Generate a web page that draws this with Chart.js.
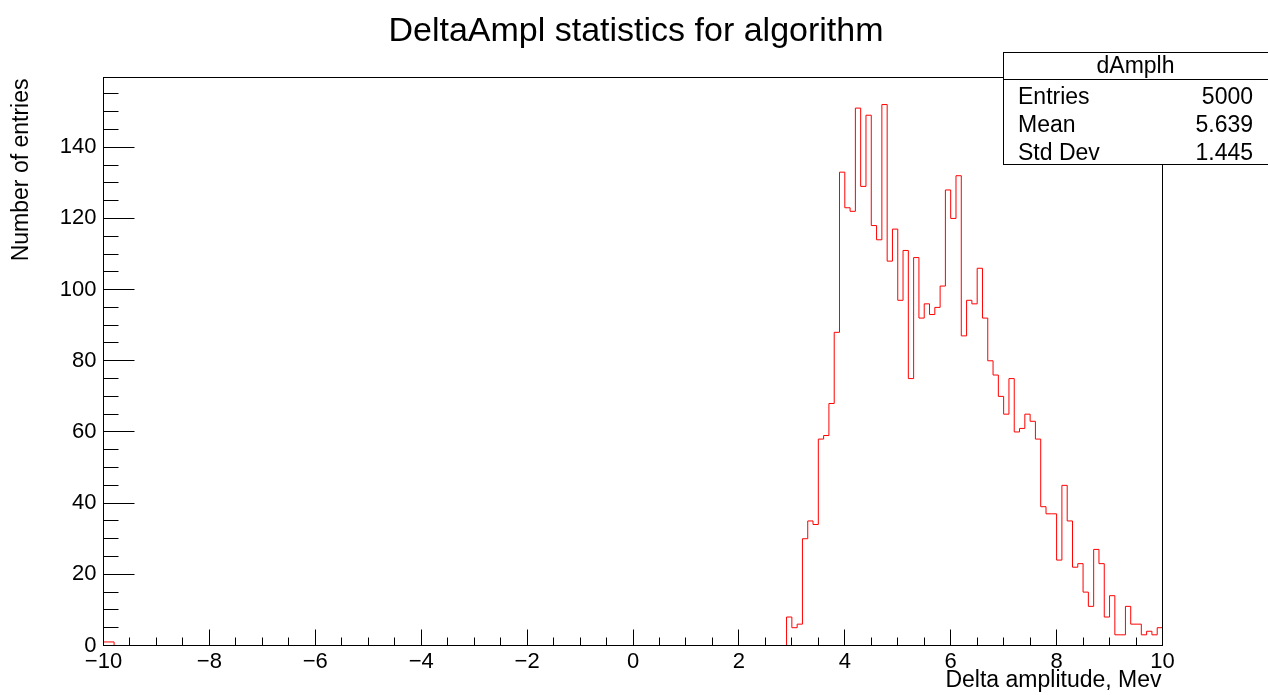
<!DOCTYPE html>
<html>
<head>
<meta charset="utf-8">
<title>DeltaAmpl statistics for algorithm</title>
<script src="https://cdn.jsdelivr.net/npm/chart.js@4.4.1/dist/chart.umd.min.js"></script>
<style>
  html, body { margin: 0; padding: 0; background: #ffffff; }
  canvas { display: block; }
</style>
</head>
<body>
<canvas id="hist" width="1268" height="695"></canvas>
<script>
// Histogram dAmplh: 200 bins of 0.1 between -10 and 10
const histName = 'dAmplh';
const titleText = 'DeltaAmpl statistics for algorithm';
const xTitleText = 'Delta amplitude, Mev';
const yTitleText = 'Number of entries';

const xMin = -10;
const xMax = 10;
const binWidth = 0.1;
const yMax = 159.6;

// bin contents, one row per unit of x (row starts at -10, -9, ..., 9)
const counts = [
  1, 1, 0, 0, 0, 0, 0, 0, 0, 0,
  0, 0, 0, 0, 0, 0, 0, 0, 0, 0,
  0, 0, 0, 0, 0, 0, 0, 0, 0, 0,
  0, 0, 0, 0, 0, 0, 0, 0, 0, 0,
  0, 0, 0, 0, 0, 0, 0, 0, 0, 0,
  0, 0, 0, 0, 0, 0, 0, 0, 0, 0,
  0, 0, 0, 0, 0, 0, 0, 0, 0, 0,
  0, 0, 0, 0, 0, 0, 0, 0, 0, 0,
  0, 0, 0, 0, 0, 0, 0, 0, 0, 0,
  0, 0, 0, 0, 0, 0, 0, 0, 0, 0,
  0, 0, 0, 0, 0, 0, 0, 0, 0, 0,
  0, 0, 0, 0, 0, 0, 0, 0, 0, 0,
  0, 0, 0, 0, 0, 0, 0, 0, 0, 8,
  5, 6, 30, 35, 34, 58, 59, 68, 88, 133,
  123, 122, 151, 129, 149, 118, 114, 152, 108, 117,
  97, 111, 75, 109, 92, 96, 93, 95, 101, 128,
  120, 132, 87, 97, 96, 106, 92, 80, 76, 70,
  65, 75, 60, 61, 65, 63, 58, 39, 37, 37,
  24, 45, 35, 22, 23, 15, 11, 27, 23, 8,
  14, 3, 3, 11, 6, 6, 3, 4, 3, 5
];

// statistics box
const statLabels = ['Entries', 'Mean', 'Std Dev'];
const statValues = ['5000', '5.639', '1.445'];

// axis divisions
const xLabelStep = 2;
const xMinorStep = 0.5;
const yLabelStep = 20;
const yMinorStep = 5;

const FONT = '"Liberation Sans", Arial, Helvetica, sans-serif';
Chart.defaults.font.family = FONT;

// outline points: each bin's low edge carries the bin content
function outlinePoints() {
  const pts = [{ x: xMin, y: 0 }];
  counts.forEach((c, i) => pts.push({ x: xMin + i * binWidth, y: c }));
  pts.push({ x: xMax, y: 0 });
  return pts;
}

const minus = s => String(s).replace('-', '\u2212');

const framePlugin = {
  id: 'frameAndTicks',
  afterDatasetsDraw(chart) {
    const { ctx, chartArea: a, scales: { x, y } } = chart;
    ctx.save();
    ctx.strokeStyle = '#000';
    ctx.lineWidth = 1;
    ctx.strokeRect(a.left, a.top, a.right - a.left, a.bottom - a.top);

    ctx.beginPath();
    // x ticks, pointing up into the frame
    const nx = Math.round((xMax - xMin) / xMinorStep);
    const perX = Math.round(xLabelStep / xMinorStep);
    for (let k = 0; k <= nx; k++) {
      const v = xMin + k * xMinorStep;
      const px = Math.round(x.getPixelForValue(v) - 0.5) + 0.5;
      const len = (k % perX === 0) ? 16 : 8;
      ctx.moveTo(px, a.bottom);
      ctx.lineTo(px, a.bottom - len);
    }
    // y ticks, pointing right into the frame
    const perY = Math.round(yLabelStep / yMinorStep);
    for (let k = 0; k * yMinorStep <= yMax; k++) {
      const v = k * yMinorStep;
      const py = Math.round(y.getPixelForValue(v) - 0.5) + 0.5;
      const len = (k % perY === 0) ? 31 : 15;
      ctx.moveTo(a.left, py);
      ctx.lineTo(a.left + len, py);
    }
    ctx.stroke();
    ctx.restore();
  },
  afterDraw(chart) {
    const { ctx, chartArea: a } = chart;
    ctx.save();
    ctx.fillStyle = '#000';

    // title
    ctx.font = '34px ' + FONT;
    ctx.textAlign = 'center';
    ctx.textBaseline = 'alphabetic';
    ctx.fillText(titleText, 636, 41);

    // x axis title, right aligned to the frame
    ctx.font = '23px ' + FONT;
    ctx.textAlign = 'right';
    ctx.fillText(xTitleText, a.right - 1, 687);

    // y axis title, rotated, aligned to the top of the frame
    ctx.save();
    ctx.translate(28, a.top + 1);
    ctx.rotate(-Math.PI / 2);
    ctx.textAlign = 'right';
    ctx.fillText(yTitleText, 0, 0);
    ctx.restore();

    // statistics box
    const bx = 1003.5, by = 52.5, bw = 265, bh = 112, hh = 27;
    ctx.fillStyle = '#fff';
    ctx.fillRect(bx, by, bw, bh);
    ctx.strokeStyle = '#000';
    ctx.lineWidth = 1;
    ctx.strokeRect(bx, by, bw, bh);
    ctx.beginPath();
    ctx.moveTo(bx, by + hh);
    ctx.lineTo(bx + bw, by + hh);
    ctx.stroke();

    ctx.fillStyle = '#000';
    ctx.font = '23px ' + FONT;
    ctx.textAlign = 'center';
    ctx.fillText(histName, 1135.5, 73);
    statLabels.forEach((lab, i) => {
      const yy = 103.5 + i * 28.3;
      ctx.textAlign = 'left';
      ctx.fillText(lab, 1018, yy);
      ctx.textAlign = 'right';
      ctx.fillText(statValues[i], 1253, yy);
    });
    ctx.restore();
  }
};

new Chart(document.getElementById('hist'), {
  type: 'line',
  data: {
    datasets: [{
      label: histName,
      data: outlinePoints(),
      stepped: 'before',
      borderColor: '#ff0000',
      borderWidth: 1,
      pointRadius: 0,
      fill: false,
      tension: 0
    }]
  },
  options: {
    responsive: false,
    animation: false,
    devicePixelRatio: 1,
    layout: { padding: { top: 77.5, right: 105.5, left: 0, bottom: 0 } },
    plugins: { legend: { display: false }, tooltip: { enabled: false }, title: { display: false } },
    scales: {
      x: {
        type: 'linear',
        min: xMin,
        max: xMax,
        afterFit: s => { s.height = 49.5; },
        grid: { display: false, drawTicks: false },
        border: { display: false },
        ticks: {
          stepSize: xLabelStep,
          includeBounds: false,
          autoSkip: false,
          maxRotation: 0,
          padding: 3,
          color: '#000',
          font: { size: 22 },
          callback: v => minus(v)
        }
      },
      y: {
        type: 'linear',
        min: 0,
        max: yMax,
        afterFit: s => { s.width = 103.5; },
        grid: { display: false, drawTicks: false },
        border: { display: false },
        ticks: {
          stepSize: yLabelStep,
          includeBounds: false,
          padding: 7,
          color: '#000',
          font: { size: 22 },
          callback: v => minus(v)
        }
      }
    }
  },
  plugins: [framePlugin]
});
</script>
</body>
</html>
